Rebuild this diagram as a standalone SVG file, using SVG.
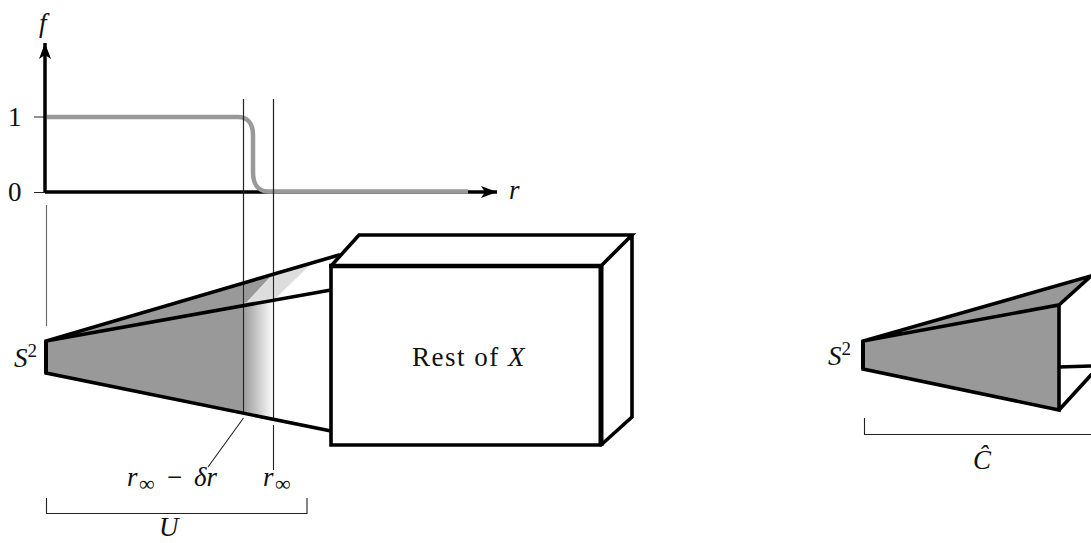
<svg xmlns="http://www.w3.org/2000/svg" width="1091" height="543" viewBox="0 0 1091 543">
<style>
text{font-family:"Liberation Serif","Times New Roman",serif;font-size:27px;fill:#111}
.i{font-style:italic}
.s{font-size:19px}
.o{font-size:22px}
.k{fill:none;stroke:#000;stroke-width:3.600;stroke-linejoin:miter;stroke-linecap:round}
.t{fill:none;stroke:#222;stroke-width:1.100}
</style>
<defs>
<linearGradient id="fade" gradientUnits="userSpaceOnUse" x1="243" y1="0" x2="274" y2="0"><stop offset="0" stop-color="#999"/><stop offset="1" stop-color="#fff"/></linearGradient>
<marker id="arr" markerUnits="userSpaceOnUse" markerWidth="18" markerHeight="16" refX="16" refY="8" orient="auto"><path d="M0 2L16 8L0 14L4 8Z" fill="#000"/></marker>
</defs>
<g id="connectors">
<path class="t" d="M34 117H45M34 192.500H45"/>
<path d="M45 192V43" fill="none" stroke="#000" stroke-width="3.500" marker-end="url(#arr)"/>
<path d="M45 192H497" fill="none" stroke="#000" stroke-width="3.500" marker-end="url(#arr)"/>
<path d="M47 117H238C248 117 253 124 253 135V172C253 184 258 191.500 268 191.500H468" fill="none" stroke="#999" stroke-width="4.500"/>
<path class="t" d="M46.500 205V326" style="stroke:#666"/>
<path class="t" d="M243.500 99V413M273.500 99V418M273.500 425V470M243.500 418L208 467" />
<path class="t" d="M46.500 498V513.500H307V498M864.500 418V434.500H1091"/>
</g>
<g id="cone-left">
<path d="M46 341L243 283V412L46 373Z" fill="#999"/>
<path d="M243 283L273 274L247 302L243 303Z" fill="#999"/>
<path d="M273 274L313 262L276 298L247 302Z" fill="#ddd"/>
<path d="M243 303L274 298V417L243 412Z" fill="url(#fade)"/>
<path class="t" d="M243.500 99V413M273.500 99V418"/>
<path class="k" d="M339 255L46 341V373L331 431M46 341L331 290"/>
<path d="M46 341V373" stroke="#000" stroke-width="4"/>
</g>
<g id="box">
<path d="M331 266H601V445H331Z" fill="#fff"/>
<path class="k" d="M331 266L359 235H632L601 266M632 235V417L601 445M331 266V445H601"/>
<path d="M329 266H601" stroke="#000" stroke-width="4.500"/>
<path d="M601 264V446" stroke="#000" stroke-width="5"/>
<text x="412" y="366" letter-spacing="1.500">Rest of <tspan class="i">X</tspan></text>
</g>
<g id="cone-right">
<path d="M863 341L1091 276L1059 305V410L863 369Z" fill="#999"/>
<path class="k" d="M1091 276L863 341V369L1059 410V305L863 341M1059 305L1091 276M1059 367L1091 366M1059 410L1091 375"/>
<path d="M863 341V369" stroke="#000" stroke-width="4"/>
</g>
<g id="labels">
<text class="i" x="39" y="32">f</text>
<text x="8" y="126">1</text>
<text x="8" y="201">0</text>
<text class="i" x="509" y="199">r</text>
<text x="14" y="367"><tspan class="i">S</tspan><tspan class="s" dy="-10">2</tspan></text>
<text x="828" y="365"><tspan class="i">S</tspan><tspan class="s" dy="-10">2</tspan></text>
<text class="i" x="127" y="486">r</text><text class="o" x="139" y="491">∞</text>
<text x="167" y="486">−</text><text class="i" x="194" y="486">δr</text>
<text class="i" x="263" y="486">r</text><text class="o" x="275" y="491">∞</text>
<text class="i" x="159" y="536">U</text>
<text class="i" x="973" y="469">Ĉ</text>
</g>
</svg>
